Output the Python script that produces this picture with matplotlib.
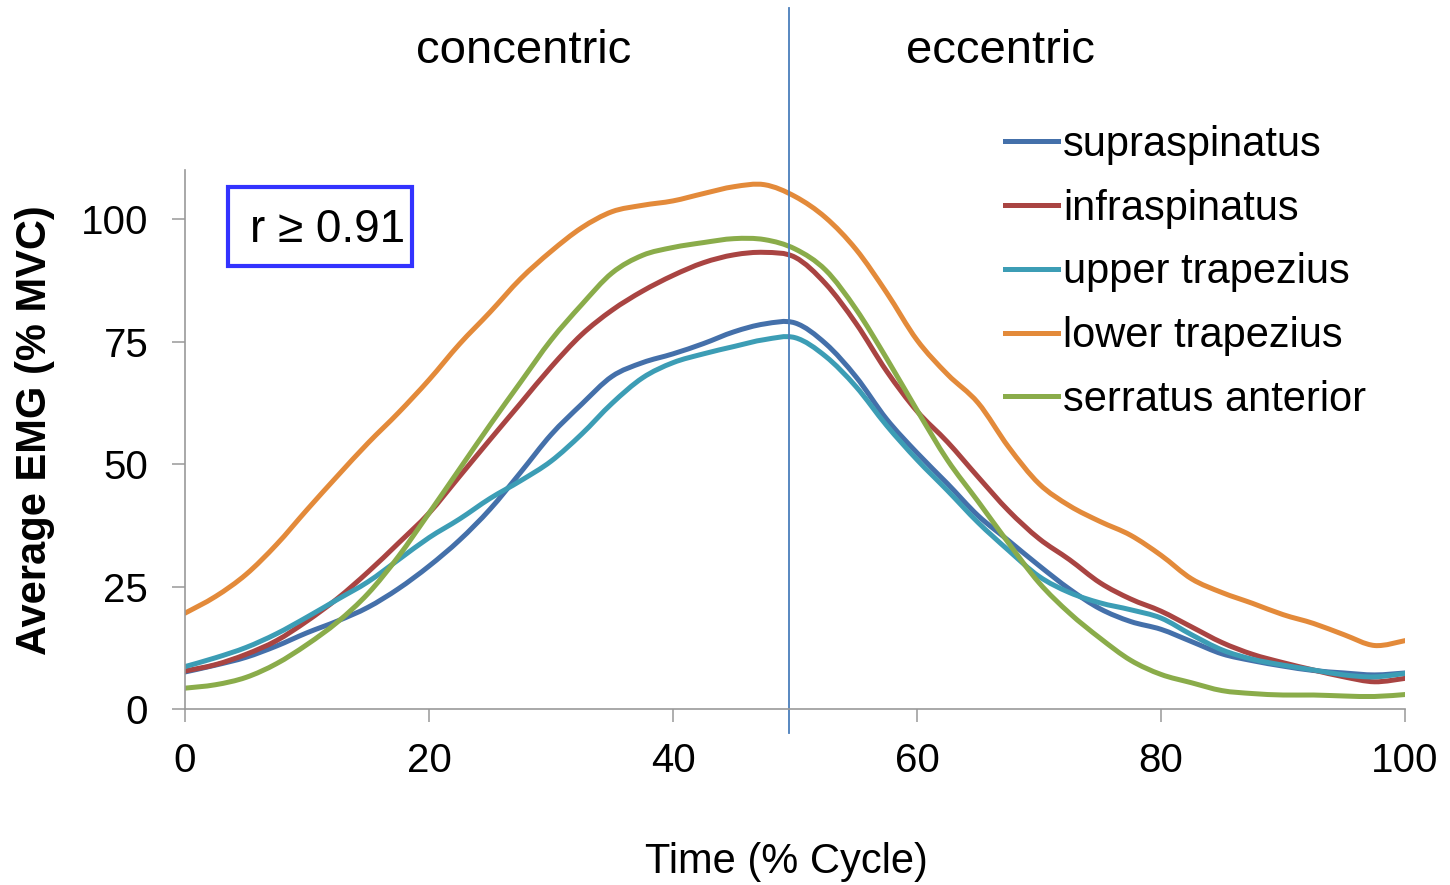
import matplotlib
matplotlib.use('Agg')
import matplotlib.pyplot as plt
from matplotlib.patches import Rectangle, PathPatch
from matplotlib.path import Path
from matplotlib.lines import Line2D
import numpy as np

plt.rcParams['font.family'] = ['Liberation Sans', 'DejaVu Sans']

# % of cycle, read every 2.5 %
time_pct = np.arange(0, 100.1, 2.5)

supraspinatus = [7.6, 9.0, 10.6, 12.9, 15.6, 18.0, 20.8, 24.6, 29.2, 34.5,
                 40.8, 48.3, 56.0, 62.2, 67.9, 70.7, 72.5, 74.6, 77.0, 78.6,
                 78.8, 74.6, 67.8, 59.2, 52.3, 46.0, 39.5, 34.4, 29.3, 24.5,
                 20.5, 17.9, 16.3, 13.8, 11.3, 9.9, 8.8, 7.9, 7.4, 7.0, 7.4]
infraspinatus = [7.8, 9.1, 11.2, 14.0, 18.0, 22.6, 28.0, 33.9, 40.0, 47.5,
                 55.0, 62.4, 69.8, 76.4, 81.4, 85.3, 88.5, 91.1, 92.7, 93.2,
                 92.2, 86.8, 78.7, 69.0, 60.8, 54.5, 47.4, 40.5, 34.8, 30.5,
                 25.8, 22.5, 20.0, 16.8, 13.6, 11.2, 9.5, 8.0, 6.6, 5.6, 6.3]
upper_trapezius = [8.7, 10.5, 12.6, 15.4, 18.8, 22.4, 26.0, 30.5, 35.0, 38.8,
                   43.0, 46.6, 50.6, 56.1, 62.4, 67.6, 70.7, 72.5, 74.0, 75.4,
                   75.8, 72.0, 65.8, 57.9, 50.9, 44.6, 38.1, 32.4, 27.1, 23.8,
                   21.7, 20.3, 18.6, 15.2, 12.1, 10.2, 9.0, 8.0, 7.0, 6.6, 7.3]
lower_trapezius = [19.6, 23.0, 27.5, 33.6, 40.7, 47.6, 54.3, 60.5, 67.2, 74.5,
                   81.0, 87.8, 93.4, 98.2, 101.5, 102.8, 103.7, 105.2, 106.6, 107.0,
                   104.6, 100.3, 93.8, 85.0, 75.3, 68.3, 62.5, 53.5, 46.0, 41.5,
                   38.3, 35.5, 31.4, 26.6, 23.8, 21.6, 19.3, 17.5, 15.2, 13.0, 14.0]
serratus_anterior = [4.3, 5.0, 6.5, 9.3, 13.2, 17.8, 23.6, 31.2, 40.0, 49.0,
                     58.0, 66.7, 75.3, 82.5, 89.0, 92.6, 94.2, 95.2, 96.0, 95.8,
                     93.9, 89.6, 81.6, 71.6, 61.0, 50.8, 42.4, 33.9, 25.8, 19.6,
                     14.5, 10.0, 7.1, 5.4, 3.8, 3.2, 2.9, 2.9, 2.7, 2.6, 3.0]

muscles = ['supraspinatus', 'infraspinatus', 'upper trapezius',
           'lower trapezius', 'serratus anterior']
series = [supraspinatus, infraspinatus, upper_trapezius,
          lower_trapezius, serratus_anterior]
colors = ['#4470AA', '#A94442', '#3C9DB5', '#E38A3A', '#8AAC4A']

phase_split = 49.5
x_ticks = [0, 20, 40, 60, 80, 100]
y_ticks = [0, 25, 50, 75, 100]


def smooth_path(x, y):
    # Excel style "smoothed line": cubic Bezier through every point
    pts = np.column_stack([x, y])
    verts = [pts[0]]
    codes = [Path.MOVETO]
    n = len(pts)
    for i in range(n - 1):
        p0 = pts[max(i - 1, 0)]
        p1 = pts[i]
        p2 = pts[i + 1]
        p3 = pts[min(i + 2, n - 1)]
        c1 = p1 + (p2 - p0) / 6.0
        c2 = p2 - (p3 - p1) / 6.0
        verts += [c1, c2, p2]
        codes += [Path.CURVE4] * 3
    return Path(verts, codes)


fig = plt.figure(figsize=(14.5, 8.85), dpi=100)
ax = fig.add_axes([0.1276, 0.1986, 0.8414, 0.6093])

handles = []
for name, vals, c in zip(muscles, series, colors):
    patch = PathPatch(smooth_path(time_pct, vals), facecolor='none',
                      edgecolor=c, lw=3.6, capstyle='round',
                      joinstyle='round')
    ax.add_patch(patch)
    handles.append(Line2D([], [], color=c, lw=3.6, label=name))

ax.set_xlim(0, 100)
ax.set_ylim(0, 110)
ax.set_xticks(x_ticks)
ax.set_yticks(y_ticks)
for s in ['top', 'right']:
    ax.spines[s].set_visible(False)
for s in ['left', 'bottom']:
    ax.spines[s].set_color('#999999')
    ax.spines[s].set_linewidth(1.2)
ax.tick_params(axis='both', direction='out', length=9.5, width=1.1,
               color='#999999', labelsize=29)
ax.tick_params(axis='y', pad=17)
ax.tick_params(axis='x', pad=14)

# phase boundary line, runs past the axes top and bottom
ax.plot([phase_split, phase_split], [-0.044, 1.30], color='#4A7EBB', lw=1.3,
        transform=ax.get_xaxis_transform(), clip_on=False)

fig.text(524 / 1450, 1 - 51 / 885, 'concentric', fontsize=34,
         ha='center', va='center')
fig.text(1000 / 1450, 1 - 51 / 885, 'eccentric', fontsize=34,
         ha='center', va='center')

fig.text(786 / 1450, 1 - 862 / 885, 'Time (% Cycle)', fontsize=30,
         ha='center', va='center')
fig.text(35 / 1450, 1 - 430 / 885, 'Average EMG (% MVC)', fontsize=30,
         fontweight='bold', rotation=90, ha='center', va='center')

# correlation box
box = Rectangle((228 / 1450, 1 - 266 / 885), 184 / 1450, 79 / 885,
                transform=fig.transFigure, fill=False, edgecolor='#3333FF',
                lw=3)
fig.patches.append(box)
fig.text(328 / 1450, 1 - 230 / 885, 'r \u2265 0.91', fontsize=33,
         ha='center', va='center')

fig.legend(handles=handles, loc='upper left',
           bbox_to_anchor=(1005 / 1450, 1 - 125 / 885), frameon=False,
           fontsize=30, handlelength=1.27, handletextpad=0.12,
           labelspacing=0.57, borderpad=0, borderaxespad=0)

fig.savefig('out.png', dpi=100)
